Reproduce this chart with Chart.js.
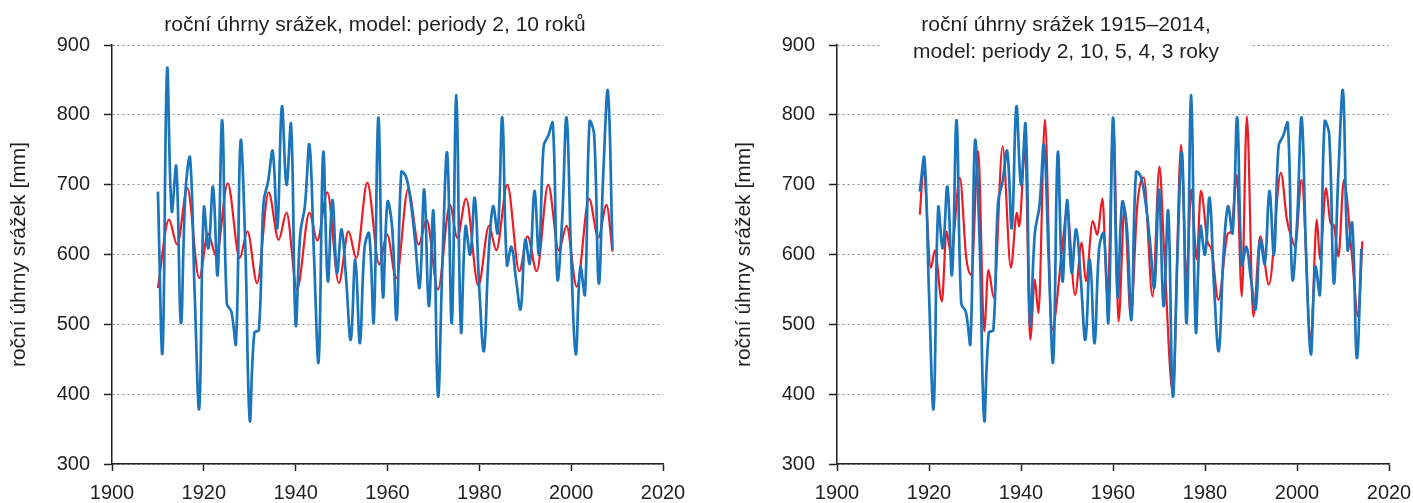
<!DOCTYPE html>
<html lang="cs">
<head>
<meta charset="utf-8">
<script src="https://cdn.jsdelivr.net/npm/chart.js@4.4.1/dist/chart.umd.min.js"></script>
<style>
  body { margin: 0; background: #fff; overflow: hidden; }
  canvas { position: absolute; top: 0; }
  #levy { left: 0; }
  #pravy { left: 697px; }
</style>
</head>
<body>
<canvas id="levy" width="706" height="503"></canvas>
<canvas id="pravy" width="725" height="503"></canvas>
<script>
// roční úhrny srážek [mm], levý graf od roku 1910 (pravý graf je posunutý o 2 roky)
const uhrny = [
  690, 460, 865, 662, 726, 502, 690, 738, 545, 380,   // 1910-1919
  667, 609, 697, 571, 792, 530, 518, 473, 762, 620,   // 1920-1929
  363, 488, 492, 674, 705, 748, 638, 812, 700, 786,   // 1930-1939
  500, 630, 669, 757, 597, 447, 746, 562, 678, 574,   // 1940-1949
  636, 564, 478, 593, 473, 610, 630, 504, 796, 540,   // 1950-1959
  675, 640, 507, 718, 712, 678, 621, 553, 693, 526,   // 1960-1969
  662, 397, 597, 745, 502, 828, 490, 640, 600, 681,   // 1970-1979
  550, 462, 597, 669, 631, 796, 585, 611, 564, 522,   // 1980-1989
  621, 587, 691, 600, 755, 770, 788, 565, 645, 796,   // 1990-1999
  597, 457, 582, 543, 790, 772, 559, 717, 834, 607,   // 2000-2009
  645, 452, 608                                       // 2010-2012
];
const rokyLevy = [];
for (let r = 1910; r <= 2009; r++) rokyLevy.push(r);
const rokyPravy = [];
for (let r = 1918; r <= 2014; r++) rokyPravy.push(r);
const posunPravy = 6; // rokyPravy[0] odpovida uhrny[6]

// model: periody 2, 10 roku
const modelLevyX = [1910.0, 1912.4, 1914.2, 1916.4, 1919.0, 1920.9, 1922.7, 1925.2, 1927.8, 1929.5,
  1931.6, 1934.1, 1936.3, 1938.0, 1940.3, 1943.0, 1944.7, 1946.9, 1949.4, 1951.5,
  1953.2, 1955.6, 1958.2, 1959.9, 1961.9, 1964.5, 1966.8, 1968.5, 1971.0, 1973.6,
  1975.2, 1977.1, 1979.8, 1982.1, 1983.7, 1986.1, 1988.7, 1990.5, 1992.5, 1995.0,
  1997.3, 1999.0, 2001.2, 2003.9, 2005.9, 2007.7, 2009.0];
const modelLevyY = [552, 650, 614, 695, 566, 630, 598, 702, 595, 633,
  559, 689, 621, 660, 550, 660, 620, 689, 559, 633,
  595, 703, 586, 629, 566, 694, 614, 650, 550, 671,
  624, 680, 555, 641, 606, 700, 576, 626, 576, 700,
  606, 641, 554, 680, 624, 671, 604];

// model: periody 2, 10, 5, 4, 3 roky
const modelPravyX = [1918.0, 1918.8, 1920.4, 1921.3, 1922.8, 1923.8, 1924.8, 1926.7, 1928.1, 1929.2,
  1930.7, 1932.0, 1932.9, 1934.1, 1936.0, 1937.8, 1939.1, 1939.6, 1940.9, 1942.0,
  1943.0, 1943.8, 1945.2, 1946.7, 1949.2, 1950.0, 1951.75, 1953.2, 1954.1, 1955.6,
  1956.6, 1957.7, 1958.8, 1960.1, 1961.2, 1962.5, 1963.85, 1965.3, 1966.7, 1968.6,
  1970.1, 1971.1, 1973.0, 1974.8, 1976.0, 1977.0, 1978.2, 1979.1, 1980.6, 1981.4,
  1982.9, 1985.0, 1985.7, 1986.9, 1988.0, 1989.1, 1990.5, 1992.0, 1993.9, 1996.5,
  1997.8, 1998.7, 1999.6, 2001.0, 2003.0, 2004.3, 2005.0, 2006.3, 2007.3, 2008.0,
  2009.0, 2010.2, 2011.9, 2013.3, 2014.2];
const modelPravyY = [657, 721, 581, 606, 533, 633, 600, 710, 595, 571,
  748, 490, 578, 538, 755, 581, 660, 640, 753, 478,
  564, 516, 793, 492, 625, 665, 542, 617, 562, 648,
  628, 680, 540, 789, 504, 667, 511, 672, 710, 540,
  726, 607, 402, 757, 564, 693, 593, 691, 617, 608,
  535, 630, 633, 714, 540, 798, 511, 626, 557, 717,
  650, 626, 612, 707, 478, 650, 593, 695, 645, 642,
  597, 707, 602, 511, 619];

const MODRA = '#1b75bb';
const CERVENA = '#ed1c24';
const PISMO = '"Liberation Sans", Arial, sans-serif';
Chart.defaults.font.family = PISMO;
Chart.defaults.color = '#231f20';

const titulekPlugin = {
  id: 'titulek',
  beforeDatasetsDraw(chart, args, o) {
    const ctx = chart.ctx;
    ctx.save();
    if (o.box) {
      ctx.fillStyle = '#fff';
      ctx.fillRect(o.box[0], o.box[1], o.box[2], o.box[3]);
    }
    ctx.font = '21px ' + PISMO;
    ctx.fillStyle = '#231f20';
    ctx.textAlign = 'center';
    ctx.textBaseline = 'middle';
    o.lines.forEach((t, i) => ctx.fillText(t, o.x, o.y + i * 27));
    ctx.restore();
  }
};

function osy(sirkaY, odsazeniTitulku) {
  return {
    x: {
      type: 'linear', min: 1900, max: 2020,
      ticks: { stepSize: 20, font: { size: 20 }, padding: 10, maxRotation: 0, callback: v => String(v) },
      grid: { drawOnChartArea: false, tickLength: 7, tickColor: '#231f20', tickWidth: 1.5 },
      border: { color: '#231f20', width: 1.5 },
      afterFit: a => { a.height = 39; }
    },
    y: {
      min: 300, max: 900,
      ticks: { stepSize: 100, font: { size: 20 }, padding: 14 },
      grid: { color: '#8a8a8a', lineWidth: 1, tickLength: 8, tickColor: '#231f20', tickWidth: 1.5 },
      border: { color: '#231f20', width: 1.5, dash: [2, 3] },
      title: { display: true, text: 'roční úhrny srážek [mm]', font: { size: 21 }, padding: { top: odsazeniTitulku, bottom: 0 } },
      afterFit: a => { a.width = sirkaY; }
    }
  };
}

function graf(id, mereni, modelX, modelY, sirkaY, pravyOkraj, odsazeniTitulku, titulek) {
  const model = modelX.map((x, i) => ({ x: x, y: modelY[i] }));
  new Chart(document.getElementById(id), {
    type: 'line',
    data: {
      datasets: [
        { data: mereni, borderColor: MODRA, borderWidth: 2.7, tension: 0.4, pointRadius: 0, order: 1 },
        { data: model, borderColor: CERVENA, borderWidth: 2.2, cubicInterpolationMode: 'monotone', pointRadius: 0, order: 2 }
      ]
    },
    options: {
      responsive: false, animation: false, devicePixelRatio: 1,
      layout: { padding: { top: 45, right: pravyOkraj, left: 0, bottom: 0 } },
      plugins: { legend: { display: false }, tooltip: { enabled: false }, titulek: titulek },
      scales: osy(sirkaY, odsazeniTitulku)
    },
    plugins: [titulekPlugin]
  });
}

const mereniLevy = rokyLevy.map((r, i) => ({ x: r, y: uhrny[i] }));
const mereniPravy = rokyPravy.map((r, i) => ({ x: r, y: uhrny[i + posunPravy] }));

graf('levy', mereniLevy, modelLevyX, modelLevyY, 112, 43, 7,
  { x: 375, y: 25, lines: ['roční úhrny srážek, model: periody 2, 10 roků'] });
graf('pravy', mereniPravy, modelPravyX, modelPravyY, 140, 33, 35,
  { x: 369, y: 25, lines: ['roční úhrny srážek 1915–2014,', 'model: periody 2, 10, 5, 4, 3 roky'], box: [183, 0, 372, 66] });
</script>
</body>
</html>
